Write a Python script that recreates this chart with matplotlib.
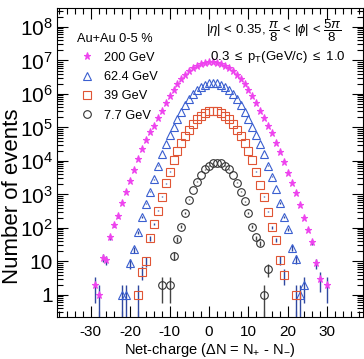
import numpy as np
import matplotlib
matplotlib.use('Agg')
import matplotlib.pyplot as plt
from matplotlib.ticker import FixedLocator, FixedFormatter, MultipleLocator, LogLocator, NullFormatter

plt.rcParams['font.family'] = ['Liberation Sans', 'DejaVu Sans']
plt.rcParams['mathtext.fontset'] = 'custom'
plt.rcParams['mathtext.rm'] = 'Liberation Sans'
plt.rcParams['mathtext.it'] = 'Liberation Sans:italic'
plt.rcParams['mathtext.sf'] = 'Liberation Sans'
plt.rcParams['axes.unicode_minus'] = False

# net-charge distributions, Au+Au 0-5 %
dn_200 = [-29, -28, -27, -26, -25, -24, -23, -22, -21, -20, -19, -18, -17, -16, -15,
          -14, -13, -12, -11, -10, -9, -8, -7, -6, -5, -4, -3, -2, -1, 0,
          1, 2, 3, 4, 5, 6, 7, 8, 9, 10, 11, 12, 13, 14, 15,
          16, 17, 18, 19, 20, 21, 22, 23, 24, 25, 26, 27, 28, 30]
n_200 = [2, 1, 13, 11, 52, 120, 220, 575, 1150, 2500, 5250, 11200, 22400, 42000, 71000,
         112000, 186000, 316000, 525000, 851000, 1.32e6, 1.95e6, 2.75e6, 3.72e6, 4.79e6,
         5.89e6, 6.92e6, 7.76e6, 8.32e6, 8.71e6,
         8.71e6, 8.32e6, 7.76e6, 6.92e6, 5.89e6, 4.79e6, 3.72e6, 2.75e6, 1.95e6, 1.32e6,
         851000, 525000, 316000, 186000, 112000,
         67600, 35500, 19000, 9100, 4470, 2140, 1070, 470, 200, 89, 37, 9, 3, 2]

dn_624 = [-22, -21, -20, -19, -18, -17, -16, -15, -14, -13, -12, -11, -10, -9, -8,
          -7, -6, -5, -4, -3, -2, -1, 0, 1, 2, 3, 4, 5, 6, 7,
          8, 9, 10, 11, 12, 13, 14, 15, 16, 17, 18, 19, 20, 21, 22, 23, 24]
n_624 = [1, 1, 9, 23, 74, 209, 525, 1200, 2820, 7240, 15800, 31600, 60300, 105000, 178000,
         295000, 468000, 708000, 1.0e6, 1.32e6, 1.62e6, 1.91e6, 2.09e6, 2.14e6, 2.09e6,
         1.91e6, 1.62e6, 1.32e6, 1.0e6, 708000,
         468000, 295000, 178000, 105000, 60300, 31600, 15800, 7240, 3390, 1450, 560,
         209, 93, 25, 12, 1, 2]

dn_39 = [-18, -17, -16, -15, -14, -13, -12, -11, -10, -9, -8, -7, -6, -5, -4,
         -3, -2, -1, 0, 1, 2, 3, 4, 5, 6, 7, 8, 9, 10, 11,
         12, 13, 14, 15, 16, 17, 18, 19, 22]
n_39 = [1, 5, 10, 49, 132, 331, 851, 2140, 4790, 10700, 20000, 33900, 56200, 85100, 126000,
        174000, 224000, 269000, 302000, 316000, 302000, 269000, 224000, 174000, 126000,
        85100, 56200, 33900, 20000, 10700,
        4790, 1900, 851, 309, 105, 44, 11, 4, 1]

dn_77 = [-12, -10, -9, -8, -7, -6, -5, -4, -3, -2, -1, 0, 1, 2, 3,
         4, 5, 6, 7, 8, 9, 10, 11, 12, 13, 14, 15]
n_77 = [2, 2, 15, 46, 110, 275, 690, 1350, 2400, 3800, 5600, 7240, 8510, 8910, 8510,
        7240, 5600, 3800, 2240, 1200, 617, 275, 110, 52, 35, 1, 6]

series = [
    ('200 GeV', dn_200, n_200, '*', '#ee44ee', '#ee44ee', '#3048a0', 5.2),
    ('62.4 GeV', dn_624, n_624, '^', 'none', '#3a5fd0', '#3048a0', 5.5),
    ('39 GeV', dn_39, n_39, 's', 'none', '#e05535', '#3048a0', 5.5),
    ('7.7 GeV', dn_77, n_77, 'o', 'none', '#333333', '#444444', 5.5),
]

fig = plt.figure(figsize=(3.64, 3.59), dpi=100)
ax = fig.add_axes([0.157, 0.117, 0.84, 0.861])

for label, x, y, mk, fc, ec, errc, ms in series:
    x = np.array(x, dtype=float)
    y = np.array(y, dtype=float)
    err = np.sqrt(y)
    lo = np.minimum(err, y - 1e-3)
    ax.errorbar(x, y, yerr=[lo, err], fmt='none', ecolor=errc, elinewidth=1.0, capsize=0)
    ax.plot(x, y, linestyle='none', marker=mk, markerfacecolor=fc,
            markeredgecolor=ec, markeredgewidth=0.8, markersize=ms, label=label)

ax.set_yscale('log')
ax.set_xlim(-38.5, 39)
ax.set_ylim(0.22, 3.7e8)

ax.xaxis.set_major_locator(MultipleLocator(10))
ax.xaxis.set_minor_locator(MultipleLocator(2))
ax.yaxis.set_major_locator(FixedLocator([1, 10, 1e2, 1e3, 1e4, 1e5, 1e6, 1e7, 1e8]))
ax.yaxis.set_major_formatter(FixedFormatter(
    ['1', '10', '$10^2$', '$10^3$', '$10^4$', '$10^5$', '$10^6$', '$10^7$', '$10^8$']))
ax.yaxis.set_minor_locator(LogLocator(base=10, subs=np.arange(2, 10), numticks=20))
ax.yaxis.set_minor_formatter(NullFormatter())

ax.tick_params(which='both', direction='in', top=True, right=True, width=0.8)
ax.tick_params(which='major', length=8)
ax.tick_params(which='minor', length=4)
ax.tick_params(axis='y', labelsize=15, pad=3)
ax.tick_params(axis='x', labelsize=11, pad=6)

ax.set_xlabel(r'Net-charge ($\Delta$N = N$_{+}$ - N$_{-}$)', fontsize=10.5)
ax.xaxis.set_label_coords(0.5, -0.078)
ax.set_ylabel('Number of events', fontsize=16)
ax.yaxis.set_label_coords(-0.112, 0.39)

leg = ax.legend(loc='upper left', bbox_to_anchor=(0.033, 0.953), title='Au+Au 0-5 %',
                frameon=False, fontsize=9.2, title_fontsize=9.2, handletextpad=0.6,
                labelspacing=0.57, borderaxespad=0.4, handlelength=1.5)
leg._legend_box.align = 'left'

ax.text(0.932, 0.968, r'$|\eta|$ < 0.35, $\dfrac{\pi}{8}$ < $|\phi|$ < $\dfrac{5\pi}{8}$',
        transform=ax.transAxes, ha='right', va='top', fontsize=9.5)
ax.text(0.942, 0.866, r'0.3 $\leq$ p$_{\mathrm{T}}$(GeV/c) $\leq$ 1.0',
        transform=ax.transAxes, ha='right', va='top', fontsize=9.5)

fig.savefig('out.png', dpi=100)
